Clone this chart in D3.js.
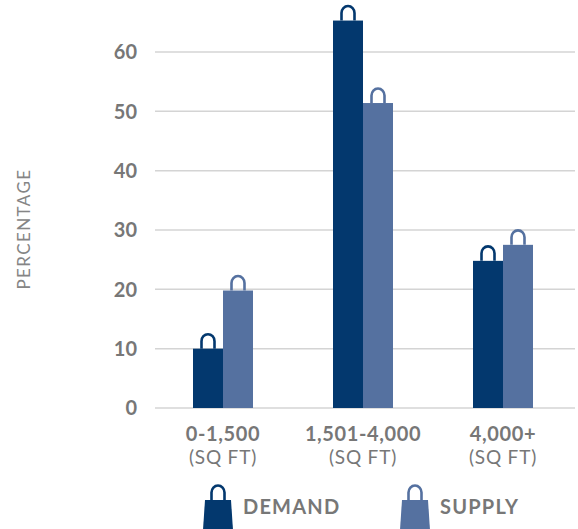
<!DOCTYPE html>
<html>
<head>
<meta charset="utf-8">
<script src="https://cdn.jsdelivr.net/npm/d3@7"></script>
<style>
  body { margin: 0; background: #fff; }
  text { font-family: Lato, "Open Sans", sans-serif; }
</style>
</head>
<body>
<script>
// chart data
const categories = ["0-1,500", "1,501-4,000", "4,000+"];
const subLabels = ["(SQ FT)", "(SQ FT)", "(SQ FT)"];
const seriesNames = ["DEMAND", "SUPPLY"];
const demand = [10, 65.3, 24.8];
const supply = [19.8, 51.4, 27.5];
const yTicks = [0, 10, 20, 30, 40, 50, 60];

const colors = { DEMAND: "#03386e", SUPPLY: "#5571a0" };
const textGray = "#777";
const width = 578, height = 529;

const svg = d3.select("body").append("svg")
    .attr("width", width)
    .attr("height", height);

const x = d3.scaleBand().domain(categories).range([153, 573]);
const y = d3.scaleLinear().domain([0, 60]).range([408, 52]);
const barW = 30;

// gridlines
svg.append("g")
    .selectAll("line")
    .data(yTicks)
    .enter().append("line")
    .attr("x1", 155).attr("x2", 575)
    .attr("y1", d => y(d)).attr("y2", d => y(d))
    .attr("stroke", "#d4d4d4")
    .attr("stroke-width", 1.5);

// tick labels
svg.append("g")
    .selectAll("text")
    .data(yTicks)
    .enter().append("text")
    .attr("x", 137)
    .attr("y", d => y(d))
    .attr("dy", "0.36em")
    .attr("text-anchor", "end")
    .attr("font-size", 20)
    .attr("font-weight", "bold")
    .attr("fill", textGray)
    .text(d => d);

// axis title
svg.append("text")
    .attr("transform", "translate(30,229) rotate(-90)")
    .attr("text-anchor", "middle")
    .attr("font-size", 17)
    .attr("letter-spacing", 1.4)
    .attr("fill", "#858585")
    .text("PERCENTAGE");

const rows = categories.map((c, i) => ({ cat: c, values: [
    { key: "DEMAND", value: demand[i] },
    { key: "SUPPLY", value: supply[i] }
] }));

function handle(g, cx, top, color) {
    // bag handle: small arch above the bar
    const r = 6.5, h = 14;
    g.append("path")
        .attr("d", `M${cx - r},${top} L${cx - r},${top - h + r} A${r},${r + 0.5} 0 0 1 ${cx + r},${top - h + r} L${cx + r},${top}`)
        .attr("fill", "none")
        .attr("stroke", color)
        .attr("stroke-width", 2.6);
}

const groups = svg.append("g")
    .selectAll("g")
    .data(rows)
    .enter().append("g");

groups.each(function (d) {
    const g = d3.select(this);
    const cx = x(d.cat) + x.bandwidth() / 2;
    d.values.forEach((v, j) => {
        const left = j === 0 ? cx - barW : cx;
        handle(g, left + barW / 2, y(v.value), colors[v.key]);
        g.append("rect")
            .attr("x", left)
            .attr("y", y(v.value))
            .attr("width", barW)
            .attr("height", y(0) - y(v.value))
            .attr("fill", colors[v.key]);
    });
});

// category labels
const labels = svg.append("g")
    .selectAll("g")
    .data(categories)
    .enter().append("g");

labels.append("text")
    .attr("x", d => x(d) + x.bandwidth() / 2)
    .attr("y", 441)
    .attr("text-anchor", "middle")
    .attr("font-size", 20)
    .attr("font-weight", "bold")
    .attr("letter-spacing", 0.6)
    .attr("fill", textGray)
    .text(d => d);

labels.append("text")
    .attr("x", d => x(d) + x.bandwidth() / 2)
    .attr("y", 464)
    .attr("text-anchor", "middle")
    .attr("font-size", 19)
    .attr("letter-spacing", 0.8)
    .attr("fill", textGray)
    .text((d, i) => subLabels[i]);

// legend
const legendX = [203, 400];
const legend = svg.append("g")
    .selectAll("g")
    .data(seriesNames)
    .enter().append("g")
    .attr("transform", (d, i) => `translate(${legendX[i]},0)`);

legend.each(function (d) {
    const g = d3.select(this);
    handle(g, 15, 500, colors[d]);
    g.append("path")
        .attr("d", "M2,500 L28,500 L30,530 L0,530 Z")
        .attr("fill", colors[d]);
});

legend.append("text")
    .attr("x", 40)
    .attr("y", 514)
    .attr("font-size", 20)
    .attr("font-weight", "bold")
    .attr("letter-spacing", 1.2)
    .attr("fill", textGray)
    .text(d => d);
</script>
</body>
</html>
